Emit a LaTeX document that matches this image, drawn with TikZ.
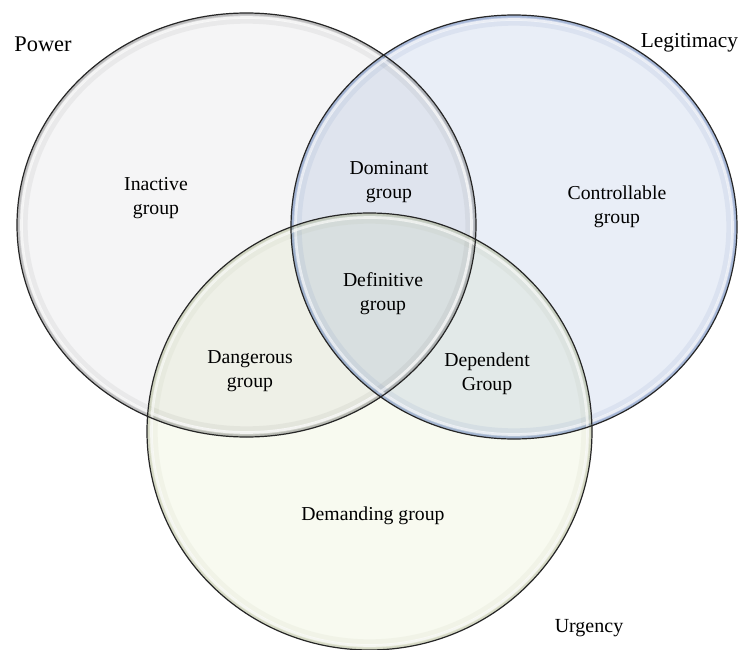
\documentclass[tikz,border=0pt]{standalone}
\usepackage{fontspec}
\setmainfont{Liberation Serif}
\definecolor{pfill}{RGB}{245,245,246}
\definecolor{lfill}{RGB}{233,238,247}
\definecolor{ufill}{RGB}{248,250,240}
\definecolor{lglow}{RGB}{100,130,185}
\definecolor{uglow}{RGB}{160,168,130}
\begin{document}
\begin{tikzpicture}[x=0.75pt,y=-0.75pt,
  lbl/.style={font=\fontsize{14.8}{18}\selectfont, align=center, text=black, inner sep=0pt},
  rim/.style={draw=black!85, line width=0.9pt}]
\useasboundingbox (0,0) rectangle (740,650);
\fill[white] (0,0) rectangle (740,650);
\coordinate (P) at (246.5,225);
\coordinate (L) at (514,227);
\coordinate (U) at (369.5,431.5);
\def\pw{(P) ellipse [x radius=229.5, y radius=212]}
\def\lg{(L) ellipse [x radius=223, y radius=212]}
\def\ug{(U) ellipse [x radius=222.5, y radius=218.5]}
% fills
\fill[blend mode=multiply, fill=pfill] \pw;
\fill[blend mode=multiply, fill=lfill] \lg;
\fill[blend mode=multiply, fill=ufill] \ug;
% inner glows
\begin{scope}
  \clip \pw;
  \draw[black!60, line width=16pt, opacity=0.08] \pw;
  \draw[black!60, line width=8pt, opacity=0.14] \pw;
  \draw[black!60, line width=3.5pt, opacity=0.22] \pw;
  \draw[white, line width=2pt, opacity=0.75] (P) ellipse [x radius=225, y radius=207.5];
\end{scope}
\begin{scope}
  \clip \lg;
  \draw[lglow, line width=16pt, opacity=0.10] \lg;
  \draw[lglow, line width=8pt, opacity=0.20] \lg;
  \draw[lglow, line width=3.5pt, opacity=0.30] \lg;
  \draw[white, line width=2pt, opacity=0.65] (L) ellipse [x radius=218.5, y radius=207.5];
\end{scope}
\begin{scope}
  \clip \ug;
  \draw[uglow, line width=16pt, opacity=0.08] \ug;
  \draw[uglow, line width=8pt, opacity=0.14] \ug;
  \draw[uglow, line width=3.5pt, opacity=0.22] \ug;
  \draw[white, line width=2pt, opacity=0.65] (U) ellipse [x radius=218, y radius=214];
\end{scope}
% outlines
\draw[rim] \pw;
\draw[rim] \lg;
\draw[rim] \ug;
% labels
\node[lbl, font=\fontsize{16.8}{20}\selectfont] (tpow) at (43,44) {Power};
\node[lbl, font=\fontsize{16}{20}\selectfont] (tleg) at (689.5,43) {Legitimacy};
\node[lbl, font=\fontsize{15}{18}\selectfont] (turg) at (589,628) {Urgency};
\node[lbl] (inact) at (156,198) {Inactive\\group};
\node[lbl] (domin) at (389,182) {Dominant\\group};
\node[lbl] (contr) at (617,207) {Controllable\\group};
\node[lbl] (defin) at (383,294) {Definitive\\group};
\node[lbl] (dang) at (250,371) {Dangerous\\group};
\node[lbl] (depen) at (487,374) {Dependent\\Group};
\node[lbl] (deman) at (373,516) {Demanding group};
\end{tikzpicture}
\end{document}
